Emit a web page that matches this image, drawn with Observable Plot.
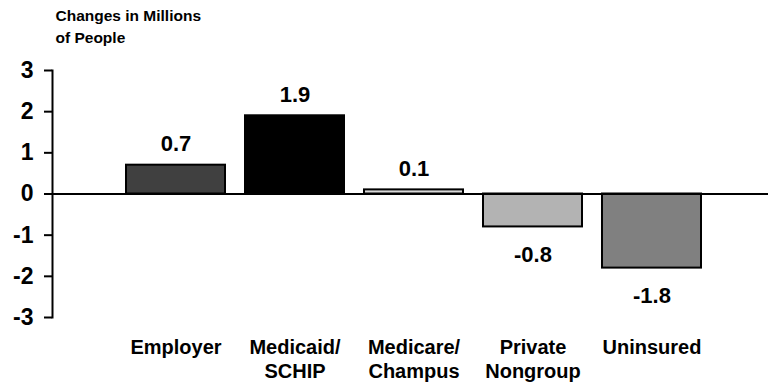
<!DOCTYPE html>
<html>
<head>
<meta charset="utf-8">
<script src="https://cdn.jsdelivr.net/npm/d3@7"></script>
<script src="https://cdn.jsdelivr.net/npm/@observablehq/plot@0.6"></script>
<style>
  html, body { margin: 0; padding: 0; background: #fff; }
  #chart svg { display: block; }
</style>
</head>
<body>
<div id="chart"></div>
<script>
// Change in coverage, millions of people
const categories = ["Employer", "Medicaid/\nSCHIP", "Medicare/\nChampus", "Private\nNongroup", "Uninsured"];
const values = [0.7, 1.9, 0.1, -0.8, -1.8];
const fills = ["#404040", "#000000", "#d9d9d9", "#b3b3b3", "#808080"];
const yTicks = [-3, -2, -1, 0, 1, 2, 3];
const titleLines = ["Changes in Millions", "of People"];

const data = categories.map((c, i) => ({category: c, value: values[i], fill: fills[i]}));
const font = "'Liberation Sans', Arial, Helvetica, sans-serif";

const chart = Plot.plot({
  width: 768,
  height: 387,
  marginTop: 70,
  marginBottom: 70,
  marginLeft: 52,
  marginRight: 0,
  style: {fontFamily: font, background: "#fff", color: "#000"},
  x: {domain: categories, paddingInner: 0.17, paddingOuter: 0.085, insetLeft: 64, insetRight: 57, label: null},
  y: {domain: [-3, 3], label: null},
  marks: [
    Plot.barY(data, {x: "category", y: "value", fill: "fill", stroke: "#000", strokeWidth: 2}),
    Plot.ruleY([0], {stroke: "#000", strokeWidth: 2}),
    Plot.frame({anchor: "left", stroke: "#000", strokeWidth: 2}),
    Plot.axisY({
      ticks: yTicks, tickSize: 8, tickPadding: 11, strokeWidth: 2,
      tickFormat: d => String(d), fontSize: 23, fontWeight: "bold", label: null
    }),
    Plot.axisX({
      tickSize: 0, tickPadding: 19, lineAnchor: "top", lineHeight: 1.2,
      fontSize: 20, fontWeight: "bold", label: null
    }),
    // value labels above positive bars, below negative ones
    Plot.text(data.filter(d => d.value >= 0), {
      x: "category", y: "value", text: d => d.value.toFixed(1), dy: -21,
      fontSize: 22, fontWeight: "bold", fill: "#000"
    }),
    Plot.text(data.filter(d => d.value < 0), {
      x: "category", y: "value", text: d => d.value.toFixed(1), dy: 28,
      fontSize: 22, fontWeight: "bold", fill: "#000"
    }),
    // axis title in the top margin
    Plot.text([titleLines.join("\n")], {
      frameAnchor: "top-left", text: d => d, textAnchor: "start", lineAnchor: "top",
      dx: 3, dy: -65, lineHeight: 1.42, fontSize: 15.5, fontWeight: "bold", fill: "#000"
    })
  ]
});

document.getElementById("chart").append(chart);
</script>
</body>
</html>
